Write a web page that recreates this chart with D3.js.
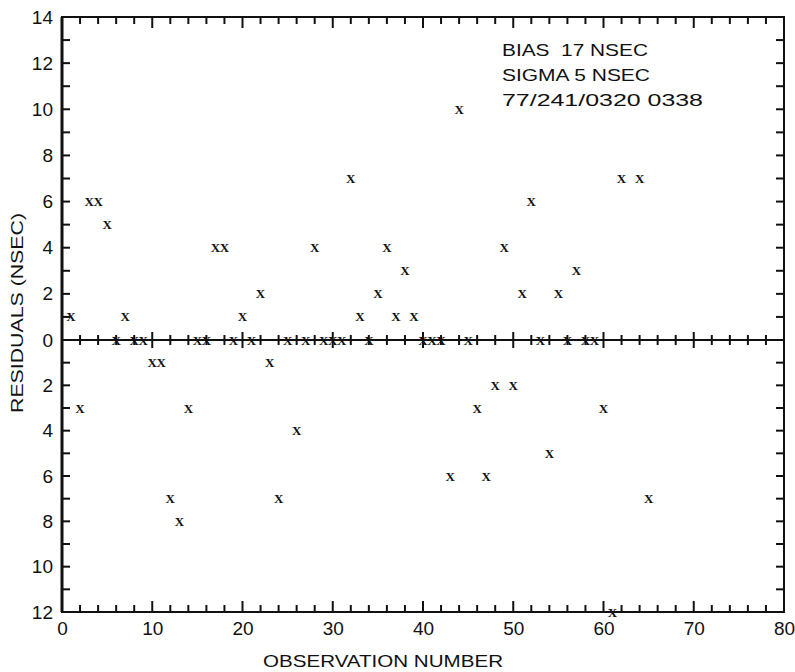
<!DOCTYPE html>
<html><head><meta charset="utf-8">
<script src="https://cdn.jsdelivr.net/npm/d3@7"></script>
<style>body{margin:0;background:#fff}svg{display:block}text{font-family:"Liberation Sans",Arial,sans-serif;fill:#111}</style>
</head><body>
<script>
const observations = [1,2,3,4,5,6,7,8,9,10,11,12,13,14,15,16,17,18,19,20,21,22,23,24,25,26,27,28,29,30,31,32,33,34,35,36,37,38,39,40,41,42,43,44,45,46,47,48,49,50,51,52,53,54,55,56,57,58,59,60,61,62,64,65];
const residuals    = [1,-3,6,6,5,0,1,0,0,-1,-1,-7,-8,-3,0,0,4,4,0,1,0,2,-1,-7,0,-4,0,4,0,0,0,7,1,0,2,4,1,3,1,0,0,0,-6,10,0,-3,-6,-2,4,-2,2,6,0,-5,2,0,3,0,0,-3,-12,7,7,-7];
const xTicks = [0,10,20,30,40,50,60,70,80];
const yTicks = [-12,-10,-8,-6,-4,-2,0,2,4,6,8,10,12,14];
const notes = ["BIAS\u00a0\u00a017 NSEC","SIGMA 5 NSEC","77/241/0320 0338"];
const xTitle = "OBSERVATION NUMBER";
const yTitle = "RESIDUALS (NSEC)";

const W = 795, H = 672;
const svg = d3.select("body").append("svg").attr("width", W).attr("height", H);
const x = d3.scaleLinear().domain([0, 80]).range([62, 784]);
const y = d3.scaleLinear().domain([-12, 0, 14]).range([612, 340, 17]);
const stroke = "#111";
const xMinor = d3.range(0, 81, 2);
const yMinor = d3.range(-12, 15, 1);

// frame first, ticks drawn on top
svg.append("rect").attr("x", x(0)).attr("y", y(14)).attr("width", x(80) - x(0)).attr("height", y(-12) - y(14))
  .attr("fill", "none").attr("stroke", stroke).attr("stroke-width", 2);
svg.append("line").attr("x1", x(0)).attr("x2", x(0)).attr("y1", y(14)).attr("y2", y(-12))
  .attr("stroke", stroke).attr("stroke-width", 3);
svg.append("line").attr("x1", x(0)).attr("x2", x(80)).attr("y1", y(0)).attr("y2", y(0))
  .attr("stroke", stroke).attr("stroke-width", 2);

function tickLines(data, f, sw, col) {
  const g = svg.append("g").attr("stroke", col || stroke).attr("stroke-width", sw || 2);
  data.forEach(d => {
    const c = f(d);
    g.append("line").attr("x1", c[0]).attr("y1", c[1]).attr("x2", c[2]).attr("y2", c[3]);
  });
}
tickLines(xMinor, d => [x(d), y(-12), x(d), y(-12) - (d % 10 === 0 ? 11 : 7)], 2);
tickLines(xMinor, d => [x(d), y(14), x(d), y(14) + (d % 10 === 0 ? 11 : 7)], 2);
tickLines(xMinor.filter(d => d > 0 && d < 80), d => [x(d), y(0) - (d % 10 === 0 ? 8 : 5), x(d), y(0) + (d % 10 === 0 ? 8 : 5)], 2);
tickLines(yMinor, d => [x(0), y(d), x(0) + 8, y(d)], 2);
tickLines(yMinor, d => [x(80), y(d), x(80) - 8, y(d)], 2);

svg.append("g").attr("transform", `translate(0,${y(-12)})`)
  .call(d3.axisBottom(x).tickValues(xTicks).tickSize(0).tickPadding(10).tickFormat(d3.format("d")))
  .call(g => g.select(".domain").remove())
  .call(g => g.selectAll("text").attr("font-size", 19).attr("fill", "#111"));
svg.append("g").attr("transform", `translate(${x(0)},0)`)
  .call(d3.axisLeft(y).tickValues(yTicks).tickSize(0).tickPadding(9).tickFormat(d => Math.abs(d)))
  .call(g => g.select(".domain").remove())
  .call(g => g.selectAll("text").attr("font-size", 19).attr("fill", "#111"));

svg.append("g").selectAll("text").data(observations.map((o, i) => [o, residuals[i]])).join("text")
  .attr("x", d => x(d[0])).attr("y", d => y(d[1]))
  .attr("text-anchor", "middle").attr("dominant-baseline", "central")
  .style("font-family", "'Liberation Serif',serif").style("font-weight", "bold")
  .attr("font-size", 13).text("X");

const noteW = [146, 148, 201];
svg.append("g").selectAll("text").data(notes).join("text")
  .attr("x", 502).attr("y", (d, i) => 56 + i * 25)
  .attr("font-size", 17).attr("textLength", (d, i) => noteW[i]).attr("lengthAdjust", "spacingAndGlyphs")
  .text(d => d);

svg.append("text").attr("x", 263).attr("y", 667).attr("font-size", 17)
  .attr("textLength", 240).attr("lengthAdjust", "spacingAndGlyphs").text(xTitle);
svg.append("text").attr("transform", "translate(23,413) rotate(-90)").attr("font-size", 17)
  .attr("textLength", 200).attr("lengthAdjust", "spacingAndGlyphs").text(yTitle);
</script>
</body></html>
